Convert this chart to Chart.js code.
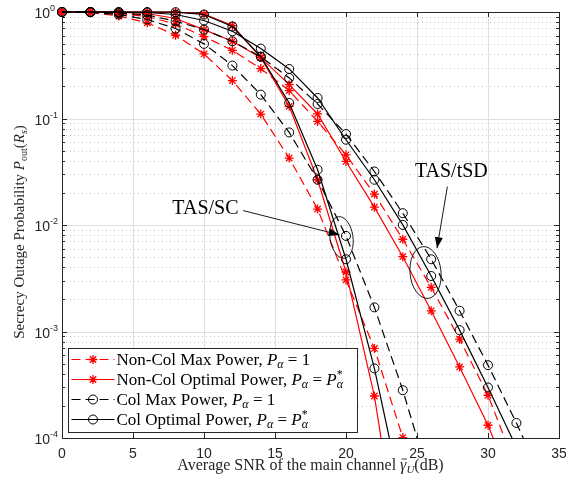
<!DOCTYPE html>
<html>
<head>
<meta charset="utf-8">
<script src="https://cdn.jsdelivr.net/npm/chart.js@4.4.1/dist/chart.umd.min.js"></script>
<style>
  html, body { margin: 0; padding: 0; background: #fff; }
</style>
</head>
<body>
<canvas id="myChart" width="566" height="480"></canvas>
<script>
// SNR points (dB)
const snr = [0, 2, 4, 6, 8, 10, 12, 14, 16, 18, 20, 22, 24, 26, 28, 30, 32, 34];

// TAS/SC curves
const scNonColMax = [1, 0.989, 0.917, 0.791, 0.605, 0.404, 0.227, 0.110, 0.0425, 0.0141, 0.00305, 6.93e-4, 1.01e-4, 1.35e-5, null, null, null, null];
const scNonColOpt = [1, 1, 1, 1, 0.998, 0.958, 0.746, 0.375, 0.130, 0.0266, 0.00362, 2.48e-4, 5.1e-6, null, null, null, null, null];
const scColMax = [1, 0.993, 0.947, 0.850, 0.700, 0.502, 0.314, 0.1675, 0.0740, 0.0266, 0.00790, 0.001685, 2.81e-4, 3.59e-5, null, null, null, null];
const scColOpt = [1, 1, 1, 1, 0.996, 0.947, 0.731, 0.381, 0.140, 0.0330, 0.00477, 4.50e-4, 2.59e-5, null, null, null, null, null];

// TAS/tSD curves
const tsdNonColMax = [1, 1, 0.968, 0.907, 0.771, 0.588, 0.437, 0.294, 0.1826, 0.0939, 0.0456, 0.0195, 0.00735, 0.0026, 8.48e-4, 2.52e-4, 5.19e-5, null];
const tsdNonColOpt = [1, 1, 0.996, 0.968, 0.869, 0.684, 0.531, 0.373, 0.208, 0.1103, 0.0395, 0.0147, 0.00504, 0.001565, 4.65e-4, 1.317e-4, 2.89e-5, null];
const tsdColMax = [1, 1, 0.979, 0.937, 0.819, 0.684, 0.531, 0.38, 0.2404, 0.1369, 0.0715, 0.0318, 0.01291, 0.00477, 0.001565, 4.83e-4, 1.384e-4, 3.59e-5];
const tsdColOpt = [1, 1, 0.996, 0.989, 0.947, 0.832, 0.660, 0.4535, 0.292, 0.1559, 0.0632, 0.0266, 0.01002, 0.00332, 0.00103, 2.98e-4, 8.18e-5, null];

// axis ticks
const xTicks = [0, 5, 10, 15, 20, 25, 30, 35];
const yTicks = [1e-4, 1e-3, 1e-2, 1e-1, 1];
const yExps = ['-4', '-3', '-2', '-1', '0'];

const RED = '#ff0000';
const BLACK = '#000000';
const AXIS = '#262626';
const SERIF = '"Liberation Serif", "Times New Roman", serif';
const SANS = '"Liberation Sans", Arial, sans-serif';

function series(label, values, color, dashed, marker, inLegend) {
  let pts = [];
  for (let i = 0; i < snr.length; i++) {
    if (values[i] !== null) pts.push({x: snr[i], y: values[i]});
  }
  return {
    label: label,
    data: pts,
    inLegend: inLegend,
    borderColor: color,
    backgroundColor: color,
    borderWidth: 1.2,
    borderDash: dashed ? [9, 5] : [],
    pointStyle: marker,
    pointRadius: marker == 'circle' ? 4.5 : 4.5,
    pointBorderColor: color,
    pointBackgroundColor: marker == 'circle' ? 'rgba(0,0,0,0)' : color,
    pointBorderWidth: marker == 'circle' ? 1 : 1.3,
    tension: 0,
    clip: {left: 10, top: 10, right: 0, bottom: 0}
  };
}

// first dataset ends up on top
let datasets = [
  series('Col Optimal Power', tsdColOpt, BLACK, false, 'circle', false),
  series('Col Max Power', tsdColMax, BLACK, true, 'circle', false),
  series('Col Optimal Power', scColOpt, BLACK, false, 'circle', true),
  series('Col Max Power', scColMax, BLACK, true, 'circle', true),
  series('Non-Col Optimal Power', tsdNonColOpt, RED, false, 'star', false),
  series('Non-Col Max Power', tsdNonColMax, RED, true, 'star', false),
  series('Non-Col Optimal Power', scNonColOpt, RED, false, 'star', true),
  series('Non-Col Max Power', scNonColMax, RED, true, 'star', true)
];

// draws a list of text pieces one after another
function drawRich(ctx, parts, x, y, align) {
  let total = 0;
  for (let p of parts) {
    ctx.font = p.f;
    p.w = ctx.measureText(p.t).width;
    if (p.adv !== false) total += p.w;
  }
  let cx = x;
  if (align == 'center') cx = x - total / 2;
  for (let p of parts) {
    ctx.font = p.f;
    ctx.fillText(p.t, cx, y + (p.dy || 0));
    if (p.bar) {
      ctx.save();
      ctx.strokeStyle = ctx.fillStyle;
      ctx.lineWidth = 0.9;
      ctx.beginPath();
      ctx.moveTo(cx + 1.5, y - 11);
      ctx.lineTo(cx + p.w + 0.5, y - 11);
      ctx.stroke();
      ctx.restore();
    }
    if (p.adv !== false) cx += p.w;
  }
}

function legendMath(name, optimal) {
  let n = '17px ' + SERIF, it = 'italic 17px ' + SERIF, sub = 'italic 12px ' + SERIF;
  let parts = [{t: name + ', ', f: n}, {t: 'P', f: it}, {t: 'α', f: sub, dy: 3}];
  if (optimal) {
    parts.push({t: ' = ', f: n});
    parts.push({t: 'P', f: it});
    parts.push({t: '*', f: '12px ' + SERIF, dy: -7, adv: false});
    parts.push({t: 'α', f: sub, dy: 3});
  } else {
    parts.push({t: ' = 1', f: n});
  }
  return parts;
}

function arrow(ctx, x1, y1, x2, y2) {
  ctx.beginPath();
  ctx.moveTo(x1, y1);
  ctx.lineTo(x2, y2);
  ctx.stroke();
  let a = Math.atan2(y2 - y1, x2 - x1);
  let L = 11, W = 4;
  ctx.beginPath();
  ctx.moveTo(x2, y2);
  ctx.lineTo(x2 - L * Math.cos(a) + W * Math.sin(a), y2 - L * Math.sin(a) - W * Math.cos(a));
  ctx.lineTo(x2 - L * Math.cos(a) - W * Math.sin(a), y2 - L * Math.sin(a) + W * Math.cos(a));
  ctx.closePath();
  ctx.fill();
}

const axesPlugin = {
  id: 'matlabAxes',
  beforeDatasetsDraw(chart) {
    const ctx = chart.ctx;
    const {left, right, top, bottom} = chart.chartArea;
    const xs = chart.scales.x, ys = chart.scales.y;
    ctx.save();
    ctx.lineWidth = 1;
    // minor grid (dotted)
    ctx.strokeStyle = '#c8c8c8';
    ctx.setLineDash([1, 3]);
    for (let d = 0; d < yTicks.length - 1; d++) {
      for (let k = 2; k <= 9; k++) {
        let y = Math.round(ys.getPixelForValue(yTicks[d] * k)) + 0.5;
        ctx.beginPath(); ctx.moveTo(left, y); ctx.lineTo(right, y); ctx.stroke();
      }
    }
    // major grid
    ctx.setLineDash([]);
    ctx.strokeStyle = '#dedede';
    for (let v of xTicks) {
      let x = Math.round(xs.getPixelForValue(v)) + 0.5;
      ctx.beginPath(); ctx.moveTo(x, top); ctx.lineTo(x, bottom); ctx.stroke();
    }
    for (let v of yTicks) {
      let y = Math.round(ys.getPixelForValue(v)) + 0.5;
      ctx.beginPath(); ctx.moveTo(left, y); ctx.lineTo(right, y); ctx.stroke();
    }
    // ticks
    ctx.strokeStyle = AXIS;
    for (let v of xTicks) {
      let x = Math.round(xs.getPixelForValue(v)) + 0.5;
      ctx.beginPath();
      ctx.moveTo(x, bottom); ctx.lineTo(x, bottom - 5);
      ctx.moveTo(x, top); ctx.lineTo(x, top + 5);
      ctx.stroke();
    }
    for (let d = 0; d < yTicks.length; d++) {
      let y = Math.round(ys.getPixelForValue(yTicks[d])) + 0.5;
      ctx.beginPath();
      ctx.moveTo(left, y); ctx.lineTo(left + 5, y);
      ctx.moveTo(right, y); ctx.lineTo(right - 5, y);
      ctx.stroke();
      if (d < yTicks.length - 1) {
        for (let k = 2; k <= 9; k++) {
          let ym = Math.round(ys.getPixelForValue(yTicks[d] * k)) + 0.5;
          ctx.beginPath();
          ctx.moveTo(left, ym); ctx.lineTo(left + 3, ym);
          ctx.moveTo(right, ym); ctx.lineTo(right - 3, ym);
          ctx.stroke();
        }
      }
    }
    // box
    ctx.strokeStyle = AXIS;
    ctx.strokeRect(Math.round(left) + 0.5, Math.round(top) + 0.5, Math.round(right - left), Math.round(bottom - top));
    ctx.restore();
  },
  afterDraw(chart) {
    const ctx = chart.ctx;
    const {left, right, top, bottom} = chart.chartArea;
    const xs = chart.scales.x, ys = chart.scales.y;
    ctx.save();
    // tick labels
    ctx.fillStyle = AXIS;
    ctx.textAlign = 'center';
    ctx.textBaseline = 'alphabetic';
    ctx.font = '14px ' + SANS;
    for (let v of xTicks) {
      ctx.fillText(String(v), xs.getPixelForValue(v), bottom + 20);
    }
    for (let d = 0; d < yTicks.length; d++) {
      let y = ys.getPixelForValue(yTicks[d]);
      ctx.textAlign = 'right';
      ctx.font = '14px ' + SANS;
      ctx.fillText('10', left - 12, y + 6);
      ctx.textAlign = 'left';
      ctx.font = '9px ' + SANS;
      ctx.fillText(yExps[d], left - 12, y - 1);
    }
    // axis titles
    ctx.fillStyle = '#262626';
    ctx.textAlign = 'left';
    let n = '16px ' + SERIF, it = 'italic 16px ' + SERIF;
    drawRich(ctx, [
      {t: 'Average SNR of the main channel ', f: n},
      {t: 'γ', f: it, bar: true},
      {t: 'U', f: 'italic 11px ' + SERIF, dy: 3},
      {t: '(dB)', f: n}
    ], (left + right) / 2, 470, 'center');
    n = '15px ' + SERIF; it = 'italic 15px ' + SERIF;
    ctx.save();
    ctx.translate(24, (top + bottom) / 2 + 7);
    ctx.rotate(-Math.PI / 2);
    drawRich(ctx, [
      {t: 'Secrecy Outage Probability ', f: n},
      {t: 'P', f: it},
      {t: 'out', f: '10px ' + SERIF, dy: 3},
      {t: '(', f: n},
      {t: 'R', f: it},
      {t: 's', f: 'italic 10px ' + SERIF, dy: 3},
      {t: ')', f: n}
    ], 0, 0, 'center');
    ctx.restore();

    // annotations
    ctx.fillStyle = BLACK;
    ctx.strokeStyle = BLACK;
    ctx.lineWidth = 0.9;
    ctx.font = '20px ' + SERIF;
    ctx.textAlign = 'center';
    ctx.textBaseline = 'middle';
    ctx.fillText('TAS/SC', xs.getPixelForValue(10.1), ys.getPixelForValue(0.0143));
    ctx.fillText('TAS/tSD', xs.getPixelForValue(27.42), ys.getPixelForValue(0.0319));
    arrow(ctx, xs.getPixelForValue(12.75), ys.getPixelForValue(0.01366), xs.getPixelForValue(19.55), ys.getPixelForValue(0.00807));
    arrow(ctx, xs.getPixelForValue(27.14), ys.getPixelForValue(0.02297), xs.getPixelForValue(26.41), ys.getPixelForValue(0.00605));
    ctx.beginPath();
    ctx.ellipse(xs.getPixelForValue(19.68), ys.getPixelForValue(0.00764), 11.5, 21, -0.15, 0, 2 * Math.PI);
    ctx.stroke();
    ctx.beginPath();
    ctx.ellipse(xs.getPixelForValue(25.6), ys.getPixelForValue(0.00358), 15.5, 26, -0.1, 0, 2 * Math.PI);
    ctx.stroke();

    // legend
    let bx = left + 6.5, by = 348.5, bw = 289, bh = 84;
    ctx.fillStyle = '#fff';
    ctx.fillRect(bx, by, bw, bh);
    ctx.strokeStyle = AXIS;
    ctx.lineWidth = 1;
    ctx.strokeRect(bx, by, bw, bh);
    let entries = chart.data.datasets.filter(ds => ds.inLegend).reverse();
    ctx.textAlign = 'left';
    ctx.textBaseline = 'alphabetic';
    entries.forEach((ds, i) => {
      let y = by + 11 + i * 20;
      ctx.strokeStyle = ds.borderColor;
      ctx.lineWidth = ds.borderWidth;
      ctx.setLineDash(ds.borderDash);
      ctx.beginPath(); ctx.moveTo(bx + 3, y); ctx.lineTo(bx + 46, y); ctx.stroke();
      ctx.setLineDash([]);
      ctx.fillStyle = ds.pointBackgroundColor;
      ctx.lineWidth = ds.pointBorderWidth;
      Chart.helpers.drawPoint(ctx, {pointStyle: ds.pointStyle, radius: ds.pointRadius, borderWidth: ds.pointBorderWidth, rotation: 0}, bx + 24.5, y);
      ctx.fillStyle = BLACK;
      drawRich(ctx, legendMath(ds.label, ds.label.indexOf('Optimal') >= 0), bx + 48, y + 5.5, 'left');
    });
    ctx.restore();
  }
};

const ctx = document.getElementById('myChart').getContext('2d');
const myChart = new Chart(ctx, {
  type: 'line',
  data: { datasets: datasets },
  options: {
    responsive: false,
    animation: false,
    devicePixelRatio: 1,
    layout: { padding: { left: 62, right: 7, top: 12, bottom: 42 } },
    scales: {
      x: { type: 'linear', min: 0, max: 35, display: false },
      y: { type: 'logarithmic', min: 1e-4, max: 1, display: false }
    },
    plugins: {
      legend: { display: false },
      tooltip: { enabled: false }
    }
  },
  plugins: [axesPlugin]
});
</script>
</body>
</html>
